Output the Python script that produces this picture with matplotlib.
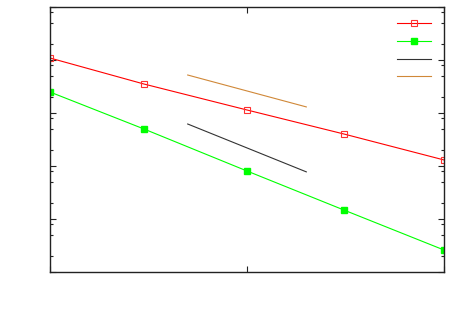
import numpy as np
import matplotlib
matplotlib.use("Agg")
import matplotlib.pyplot as plt
from matplotlib.ticker import LogLocator, NullFormatter, NullLocator, FixedLocator

# data (log-log axes, no labels were drawn)
x = [1, 3, 10, 31, 100]
serie_a = [0.109, 0.0352, 0.0114, 0.00402, 0.0013]
serie_b = [0.0249, 0.00499, 0.000805, 0.000148, 0.000026]

# reference slopes
x_ref = [5, 20]
ref_lento = [0.0062, 0.0062 * 4 ** -1.5]   # slope -3/2
ref_rapido = [0.0521, 0.0521 / 4]          # slope -1

fig = plt.figure(figsize=(4.6, 3.11), dpi=100)
ax = fig.add_axes([50 / 460, 39 / 311, 394 / 460, 265 / 311])

ax.plot(x, serie_a, color="#ff0000", lw=0.8, marker="s", ms=5, mfc="none",
        mec="#ff3030", mew=0.8, label="")
ax.plot(x, serie_b, color="#00ff00", lw=0.8, marker="s", ms=5, mfc="#00ff00",
        mec="#00ff00", label="")
ax.plot(x_ref, ref_lento, color="#333333", lw=0.8, label="")
ax.plot(x_ref, ref_rapido, color="#d08838", lw=0.8, label="")

ax.set_xscale("log")
ax.set_yscale("log")
ax.set_xlim(1, 100)
ax.set_ylim(1e-5, 1)

ax.xaxis.set_major_locator(FixedLocator([1, 10, 100]))
ax.xaxis.set_minor_locator(NullLocator())
ax.yaxis.set_major_locator(LogLocator(base=10, numticks=10))
ax.yaxis.set_minor_locator(LogLocator(base=10, subs=(2, 5, 8), numticks=10))
ax.xaxis.set_major_formatter(NullFormatter())
ax.yaxis.set_major_formatter(NullFormatter())
ax.yaxis.set_minor_formatter(NullFormatter())

ax.tick_params(which="both", direction="in", top=True, right=True,
               labelleft=False, labelbottom=False, color="#222222")
ax.tick_params(which="major", length=4.5, width=0.8)
ax.tick_params(which="minor", length=2.2, width=0.8)
for s in ax.spines.values():
    s.set_linewidth(1.0)
    s.set_color("#222222")

handles = ax.get_lines()
leg = ax.legend(handles, ["", "", "", ""], loc="upper right",
                bbox_to_anchor=((436 - 50) / 394, (272 - 12.2) / 265),
                frameon=False, handlelength=2.7, labelspacing=0.39,
                borderaxespad=0, handletextpad=0, fontsize=9)

fig.savefig("out.png", dpi=100)
